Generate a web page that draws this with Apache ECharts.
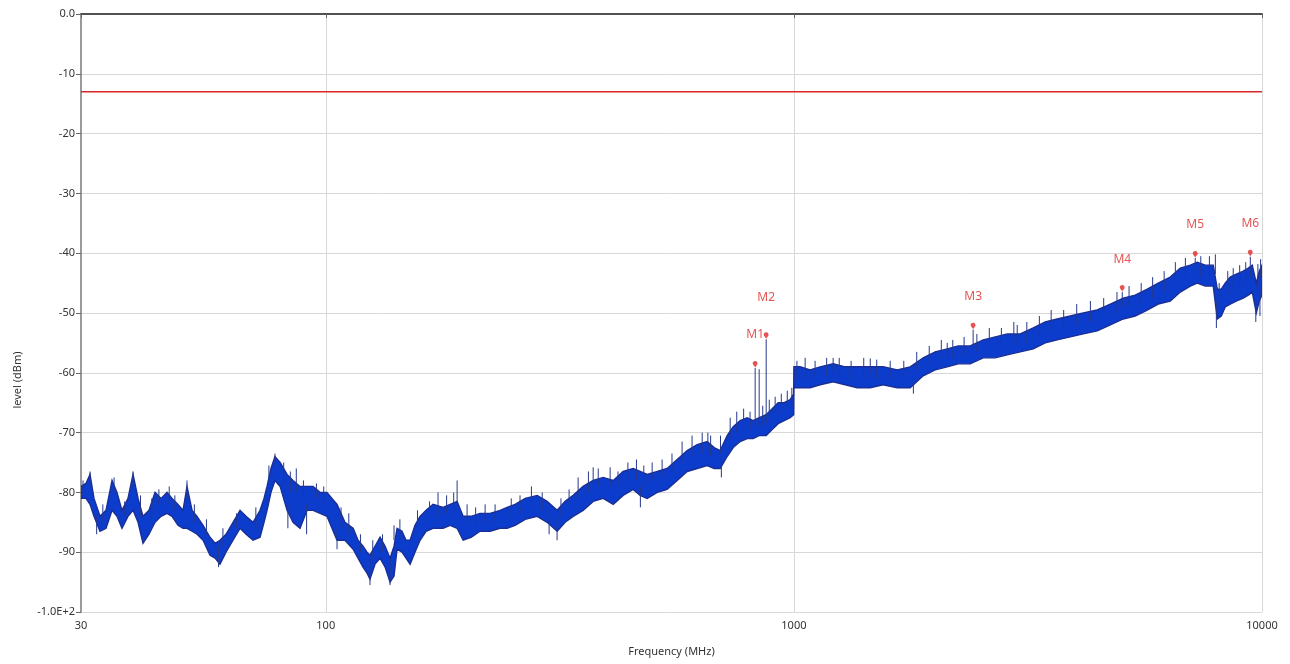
<!DOCTYPE html>
<html lang="en">
<head>
    <meta charset="UTF-8">
    <title>Spectrum level</title>
    <script src="https://cdn.jsdelivr.net/npm/echarts@6.0.0/dist/echarts.min.js"></script>
    <style>
        html, body { margin: 0; padding: 0; background: #fff; }
        #main { width: 1290px; height: 664px; }
    </style>
</head>
<body>
<div id="main"></div>
<script type="text/javascript">
    // trace: frequency (MHz), upper and lower edge of the band (dBm)
    const freq = [30, 30.74, 31.36, 31.98, 32.94, 33.93, 34.95, 35.81, 36.7, 37.8, 38.75, 39.72, 40.7, 41.92, 43.18,
        44.48, 45.81, 46.95, 48.34, 49.55, 50.53, 51.81, 53.09, 54.68, 56.59, 58.01, 59.43, 61.22, 63.37, 65.59,
        67.57, 69.92, 72.38, 73.81, 74.91, 76.38, 77.89, 79.88, 82.66, 85.13, 88.1, 91.2, 93.93, 97.23, 100.6,
        103.1, 105.7, 109.9, 114.4, 117.2, 120.1, 122.5, 124.3, 127.4, 130.6, 133.9, 137.2, 139.9, 142, 145.5,
        148.4, 151.4, 155.1, 159, 163.8, 169.5, 178.1, 184.4, 190.8, 196.5, 204.4, 213.6, 224.4, 235.7, 244,
        253.8, 266.7, 282.9, 297.1, 312.1, 324.6, 337.7, 354.6, 372.6, 391.4, 411.2, 431.8, 453.6, 469.5, 486,
        510.6, 536, 563.2, 591.6, 621.5, 652.8, 675.7, 695.9, 720.2, 741.9, 767.8, 794.8, 818.5, 843, 872.6,
        898.7, 925.6, 953.3, 981.9, 999,
        1000, 1031, 1083, 1138, 1213, 1287, 1365, 1456, 1551, 1663, 1772, 1889, 2004, 2126, 2244, 2380, 2538,
        2692, 2856, 3045, 3246, 3443, 3651, 3894, 4151, 4446, 4742, 5053, 5360, 5687, 6002, 6368, 6690, 7029,
        7273, 7565, 7868, 8025, 8185, 8345, 8553, 8811, 9120, 9348, 9533, 9723, 9867, 10000];
    const upper = [-79, -78.5, -77, -81, -84, -83, -78, -80, -83, -81, -77, -81, -84, -83, -80,
        -81, -80, -81, -82, -83, -79, -83, -84, -85.5, -87.5, -88.5, -88, -87, -85, -83,
        -84, -85, -83, -81, -79, -76, -74, -75, -77, -78, -79, -79, -79, -80, -80,
        -81, -82, -85, -86, -88, -89, -90, -90.5, -89, -87.5, -89, -91, -89, -86, -86.5,
        -88, -88, -85.5, -84, -83, -82, -82.5, -82, -81.5, -84, -84, -83.5, -83.5, -83, -82.5,
        -82, -81, -80.5, -81.5, -83, -81.5, -80.5, -79, -78, -77.5, -78, -76.5, -76, -76.5, -77,
        -76.5, -76, -74.5, -73, -72, -71.5, -72.5, -73, -70.5, -69, -68, -67.5, -68, -67.5, -67,
        -66, -65, -65, -64.5, -63.5,
        -59, -59, -59.5, -59, -58.5, -59, -59, -59, -59, -59.5, -59, -57.5, -56.5, -56, -55.5, -55.5, -54.5,
        -54, -53.5, -53.5, -52.5, -51.5, -51, -50.5, -50, -49.5, -48.5, -47.5, -47, -46, -45, -44, -42.5, -42,
        -41.5, -42, -42, -46, -46, -45, -44, -43.5, -43, -42.5, -42, -45, -43, -42];
    const lower = [-81, -81, -82, -84, -86.5, -86, -83, -84, -86, -84, -83, -85, -88.5, -87, -85,
        -84, -83.5, -84, -85.5, -86, -86, -86.5, -87, -88, -90.5, -91, -92, -90, -88, -86,
        -87, -88, -87.5, -85, -83, -80, -78, -79, -83, -85, -86, -83, -83, -83.5, -84,
        -86, -88, -88, -89.5, -91, -92.5, -93.5, -94.5, -92, -91, -92.5, -95, -94, -89.5, -90,
        -91, -92, -90, -88, -86.5, -86, -86, -85.5, -86, -88, -87.5, -86.5, -86.5, -86, -86,
        -85.5, -84.5, -84, -85, -86.5, -85, -84, -83, -81.5, -81, -82, -80.5, -79.5, -80.5, -81,
        -80, -79.5, -78, -76.5, -76, -75.5, -76, -76, -74, -72.5, -71.5, -71, -71, -70.5, -70.5,
        -69.5, -68.5, -68, -67.5, -67,
        -62.5, -62.5, -62.5, -62, -61.5, -62, -62.5, -62.5, -62, -62.5, -62.5, -60.5, -59.5, -59, -58.5, -58.5, -57.5,
        -57.5, -57, -56.5, -56, -55, -54.5, -54, -53.5, -53, -52, -51, -50.5, -49.5, -48.5, -48, -46.5, -45.5,
        -45, -45.5, -45.5, -51, -50.5, -49, -48.5, -48, -47.5, -47, -46.5, -50, -48, -47];

    // single spikes out of the band: frequency, one end, other end (dBm)
    const spikeF = [31.36, 38.75, 50.53, 77.89, 139.9, 190.8, 372.6, 405, 655, 697, 826.6, 843, 872.6,
        1213, 1456, 2126, 2415, 3000, 5029, 7201, 7950, 9441, 9930,
        30.3, 32.4, 33.4, 35.3, 37.2, 40.2, 42.5, 44, 46.3, 47.6, 52.4, 55.6, 59, 60.3, 64.5, 70.9, 75.6,
        81.3, 83, 84, 86.5, 89.6, 91, 95.5, 99, 105.7, 107.8, 112, 118.6, 124.3, 126, 132.2, 137.2, 144,
        157, 166.6, 173.7, 181.2, 187.6, 200.4,
        209, 219, 230, 249, 260, 275, 290, 300, 312, 318, 331, 346, 364, 382, 421, 442, 461, 470, 478,
        498, 523, 549, 577, 606, 637, 664, 700, 731, 755, 781, 806, 858, 886, 912, 940, 968, 990,
        1015, 1057, 1110, 1175, 1250, 1325, 1410, 1503, 1606, 1717, 1800, 1830, 1946, 2065, 2185, 2310,
        2460, 2615, 2775, 2950, 3145, 3345, 3545, 3770, 4020, 4300, 4590, 4900, 5200, 5520, 5840, 6180,
        6530, 6860, 7400, 7720, 7990, 8100, 8450, 8680, 8960, 9230, 9700, 9800, 9900];
    const spikeTop = [-76.5, -76.5, -78, -73.5, -85.5, -78, -75.8, -75.8, -70, -70.5, -59.2, -59.4, -54.4,
        -57.5, -57.6, -55, -52.8, -52, -46.5, -40.8, -40.2, -40.6, -41,
        -78, -84, -82, -77.5, -81.5, -80.5, -81, -79.5, -79, -80.5, -82, -84.5, -89, -86, -83.5, -82.5, -75.5,
        -75, -82, -76.5, -76, -78, -82, -78.5, -79, -86, -82.5, -83.5, -87, -91, -88, -87, -91, -84.5,
        -83, -81.5, -80, -80.5, -80, -82,
        -82.5, -82, -82, -81, -80.5, -79, -80, -83, -84, -81, -79.5, -77.5, -76.5, -76, -76.5, -75, -74.5, -79, -75.5,
        -75, -74.5, -73.5, -71.5, -70.5, -70, -70.5, -74, -67.5, -66.5, -66, -66.5, -65.5, -64.5, -64, -63.5, -63, -62.5,
        -58, -57.5, -58, -57.5, -57.5, -58, -57.5, -57.8, -58, -58, -61, -56.5, -55.5, -54.5, -54.5, -54,
        -53.5, -52.5, -52.5, -51.5, -51.5, -50.5, -49.5, -49.5, -48.5, -48, -47.5, -46.5, -45.5, -45, -44, -43,
        -41.5, -40.8, -40.5, -40.5, -48, -45, -43, -42.5, -42, -41.5, -48, -41.8, -46];
    const spikeFoot = [-79, -79, -81, -75, -88, -82, -78.5, -79, -73, -73.5, -69, -69, -68.5,
        -60, -60, -57.5, -56, -55, -49, -43, -43.5, -44, -44,
        -80.5, -87, -85, -80, -84, -84, -84, -82, -82, -83, -85, -87, -92.5, -89, -86, -86, -78,
        -79, -86, -80, -80, -81, -87, -81, -82, -89.5, -86, -87, -90, -95.5, -91, -90, -95.5, -88,
        -86, -84, -84, -83.5, -83.5, -85,
        -85.5, -85, -85, -84, -83.5, -82.5, -83, -87, -88, -84, -82, -81, -80, -79, -79, -78, -78, -82.5, -79,
        -78, -77.5, -76.5, -75, -74, -73.5, -74, -77.5, -71, -70, -69.5, -69.5, -69, -68, -67, -67, -66, -66,
        -61, -61, -61, -60.5, -60.5, -61, -61, -61, -61, -61, -63.5, -59.5, -58.5, -58, -57.5, -57,
        -56.5, -56, -55.5, -55, -55, -54, -53, -52.5, -52, -51.5, -50.5, -50, -49, -48.5, -47.5, -46.5,
        -45, -44, -44, -44, -52.5, -48, -47, -46, -46, -45, -51.5, -46, -50.5];

    // markers
    const markerName = ['M1', 'M2', 'M3', 'M4', 'M5', 'M6'];
    const markerF = [826.6, 872.6, 2415, 5029, 7201, 9441];
    const markerV = [-59.2, -54.4, -52.8, -46.5, -40.8, -40.6];

    // limit line
    const limitF = [30, 10000];
    const limitV = [-13, -13];

    const yTicks = [0, -10, -20, -30, -40, -50, -60, -70, -80, -90, -100];
    const yTickText = ['0.0', '-10', '-20', '-30', '-40', '-50', '-60', '-70', '-80', '-90', '-1.0E+2'];

    var chart = echarts.init(document.getElementById('main'));

    function bandItem(params, api) {
        if (params.dataIndex !== 0) return null;
        var top = [], bot = [];
        for (var i = 0; i < freq.length; i++) {
            top.push(api.coord([freq[i], upper[i]]));
            bot.unshift(api.coord([freq[i], lower[i]]));
        }
        return {
            type: 'polygon',
            shape: { points: top.concat(bot) },
            style: { fill: '#0c3ccc', stroke: '#1a2f96', lineWidth: 1.4 }
        };
    }

    function spikeItem(params, api) {
        var a = api.coord([api.value(0), api.value(1)]);
        var b = api.coord([api.value(0), api.value(2)]);
        return {
            type: 'line',
            shape: { x1: a[0], y1: a[1], x2: b[0], y2: b[1] },
            style: { stroke: '#26398c', lineWidth: 1 }
        };
    }

    var font = 'Noto Sans, sans-serif';
    var option = {
        animation: false,
        backgroundColor: '#fff',
        grid: { left: 81, right: 28, top: 14, bottom: 52 },
        xAxis: [{
            type: 'log',
            logBase: 10,
            min: 30,
            max: 10000,
            name: 'Frequency (MHz)',
            nameLocation: 'middle',
            nameGap: 34,
            nameTextStyle: { color: '#333', fontSize: 11, fontFamily: font },
            axisLine: { lineStyle: { color: '#9a9a9a', width: 2 } },
            axisTick: { show: true, length: 4, lineStyle: { color: '#666' } },
            axisLabel: {
                color: '#333', fontSize: 11, fontFamily: font, margin: 8,
                formatter: function (v) { return String(Math.round(v)); }
            },
            splitLine: { show: true, lineStyle: { color: '#d8d8d8', width: 1 } },
            minorTick: { show: false },
            minorSplitLine: { show: false }
        }, {
            type: 'log',
            position: 'top',
            min: 30,
            max: 10000,
            axisLine: { show: true, lineStyle: { color: '#3a3a3a', width: 1.5 } },
            axisTick: { show: false },
            axisLabel: { show: false },
            splitLine: { show: false }
        }],
        yAxis: {
            type: 'value',
            min: -100,
            max: 0,
            interval: 10,
            axisLine: { show: true, lineStyle: { color: '#9a9a9a', width: 2 } },
            axisTick: { show: true, length: 5, lineStyle: { color: '#666' } },
            axisLabel: {
                color: '#333', fontSize: 11, fontFamily: font, margin: 6,
                formatter: function (v) {
                    var k = yTicks.indexOf(v);
                    return k >= 0 ? yTickText[k] : String(v);
                }
            },
            splitLine: { show: true, lineStyle: { color: '#d8d8d8', width: 1 } }
        },
        graphic: [{
            type: 'text',
            x: 18,
            y: 380,
            rotation: Math.PI / 2,
            style: {
                text: 'level (dBm)', fill: '#333', font: '11px ' + font,
                textAlign: 'center', textVerticalAlign: 'middle'
            }
        }],
        series: [{
            name: 'limit',
            type: 'line',
            data: limitF.map(function (f, i) { return [f, limitV[i]]; }),
            symbol: 'none',
            lineStyle: { color: '#dc2626', width: 1.4 },
            z: 3
        }, {
            name: 'trace',
            type: 'custom',
            renderItem: bandItem,
            clip: true,
            data: freq.map(function (f, i) { return [f, upper[i], lower[i]]; }),
            encode: { x: 0, y: [1, 2] },
            z: 4
        }, {
            name: 'spikes',
            type: 'custom',
            renderItem: spikeItem,
            clip: true,
            data: spikeF.map(function (f, i) { return [f, spikeTop[i], spikeFoot[i]]; }),
            encode: { x: 0, y: [1, 2] },
            z: 5
        }, {
            name: 'markers',
            type: 'scatter',
            symbol: 'pin',
            symbolSize: 8,
            itemStyle: { color: '#e02828' },
            data: markerF.map(function (f, i) {
                return {
                    value: [f, markerV[i]],
                    name: markerName[i],
                    label: { distance: markerName[i] === 'M2' ? 29 : 20 }
                };
            }),
            label: {
                show: true,
                position: 'top',
                formatter: '{b}',
                color: '#e02828',
                fontSize: 12,
                fontFamily: font
            },
            z: 6
        }]
    };
    chart.setOption(option);
</script>
</body>
</html>
